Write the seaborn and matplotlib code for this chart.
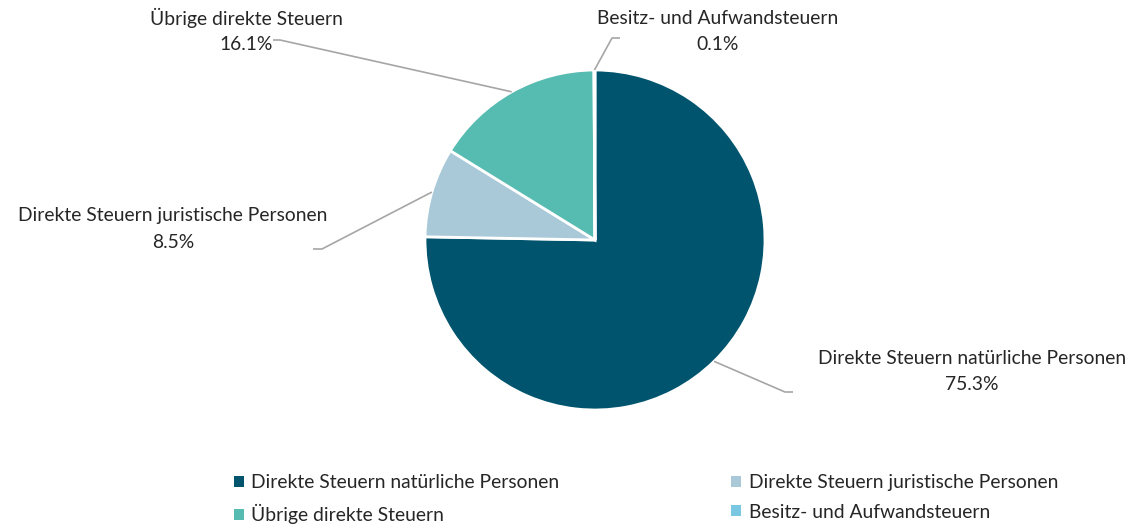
import numpy as np
import matplotlib
matplotlib.use("Agg")
import matplotlib.pyplot as plt
import seaborn as sns
from matplotlib.patches import Patch

categories = ["Direkte Steuern natürliche Personen",
              "Direkte Steuern juristische Personen",
              "Übrige direkte Steuern",
              "Besitz- und Aufwandsteuern"]
values = [75.3, 8.5, 16.1, 0.1]
colors = ["#00546E", "#A9C8D8", "#56BBB0", "#7AC7E2"]

sns.set_theme(style="white")
plt.rcParams['font.family'] = ['Lato', 'DejaVu Sans']

W, H = 1133, 529
fig = plt.figure(figsize=(W / 100, H / 100), dpi=100)
ax = fig.add_axes([0, 0, 1, 1])
ax.set_xlim(0, W)
ax.set_ylim(0, H)
ax.set_aspect('equal')
ax.axis('off')

cx, cy, r = 595, H - 240, 170
wedges, _ = ax.pie(values, colors=colors, startangle=90, counterclock=False,
                   center=(cx, cy), radius=r,
                   wedgeprops=dict(edgecolor="white", linewidth=2))
ax.set_xlim(0, W)
ax.set_ylim(0, H)

fs = 13.9
line_c = "#A6A6A6"
# layout: (elbow x, elbow y, end x, label x, label top y) in pixel coords (top-origin)
layout = [
    (785, 392, 793, 972, 358),
    (322, 249, 313, 173, 216),
    (280, 40, 273, 246, 18),
    (612, 38, 620, 718, 18),
]
for w, v, lab, (ex, ey, endx, lx, ly) in zip(wedges, values, categories, layout):
    ang = np.deg2rad((w.theta1 + w.theta2) / 2)
    px, py = cx + r * np.cos(ang), cy + r * np.sin(ang)
    ax.plot([px, ex, endx], [py, H - ey, H - ey], color=line_c, lw=1.2,
            solid_capstyle='butt')
    ax.text(lx, H - ly, lab, ha='center', va='center', fontsize=fs, color="#262626")
    ax.text(lx, H - ly - 26, f"{v:.1f}%", ha='center', va='center', fontsize=fs,
            color="#262626")

order = [0, 2, 1, 3]
handles = [Patch(facecolor=colors[i], edgecolor='none') for i in order]
labels = [categories[i] for i in order]
leg = fig.legend(handles, labels, ncol=2, loc='upper left',
                 bbox_to_anchor=(234 / W, 1 - 474 / H), frameon=False,
                 borderpad=0, borderaxespad=0,
                 fontsize=fs, handlelength=0.5, handleheight=0.5,
                 handletextpad=0.4, columnspacing=8.9, labelspacing=0.66)
for t in leg.get_texts():
    t.set_color("#262626")

fig.savefig("out.png", dpi=100)
